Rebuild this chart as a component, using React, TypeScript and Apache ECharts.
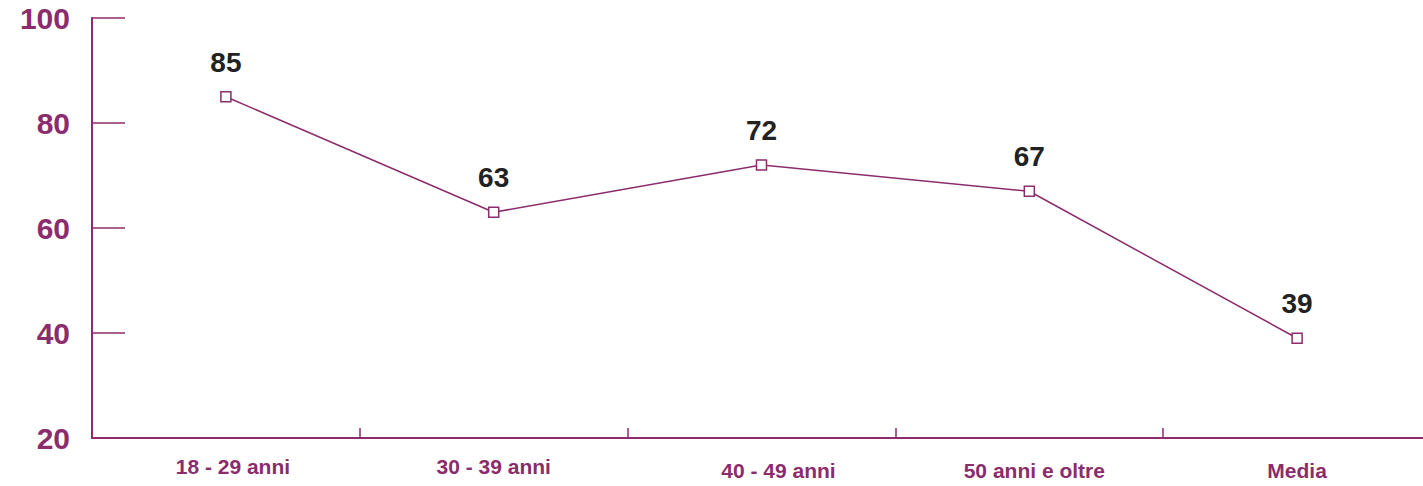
import React, { useEffect, useRef } from "react";
import * as echarts from "echarts";

const categories = ["18 - 29 anni", "30 - 39 anni", "40 - 49 anni", "50 anni e oltre", "Media"];
const values = [85, 63, 72, 67, 39];
const yTicks = { min: 20, max: 100, interval: 20 };

const PURPLE = "#8B2C6C";
const FONT = "'Liberation Sans', Arial, Helvetica, sans-serif";
// label placement tweaks per category: [top padding, horizontal shift]
const labelShift: [number, number][] = [
  [0, 7],
  [0, 0],
  [8, 17],
  [8, 5],
  [8, 0],
];

export default function App() {
  const ref = useRef<HTMLDivElement>(null);
  useEffect(() => {
    if (!ref.current) return;
    const chart = echarts.init(ref.current, undefined, { renderer: "svg" });
    const rich: Record<string, any> = {};
    labelShift.forEach(([t, dx], i) => {
      rich["l" + i] = {
        color: PURPLE,
        fontSize: 21,
        fontWeight: "bold",
        fontFamily: FONT,
        lineHeight: 24,
        padding: [t, 0, 0, dx * 2],
      };
    });
    chart.setOption({
      animation: false,
      grid: { left: 92, width: 1339, top: 18, bottom: 48, containLabel: false, outerBoundsMode: "none" },
      xAxis: {
        type: "category",
        data: categories,
        boundaryGap: true,
        axisLine: { lineStyle: { color: PURPLE, width: 2 } },
        axisTick: { show: true, inside: true, length: 10, lineStyle: { color: PURPLE, width: 1.5 }, alignWithLabel: false },
        axisLabel: {
          interval: 0,
          margin: 16,
          formatter: (v: string, i: number) => `{l${i}|${v}}`,
          rich,
        },
        splitLine: { show: false },
      },
      yAxis: {
        type: "value",
        min: yTicks.min,
        max: yTicks.max,
        interval: yTicks.interval,
        axisLine: { show: true, lineStyle: { color: PURPLE, width: 2 } },
        axisTick: { show: true, inside: true, length: 33, lineStyle: { color: PURPLE, width: 1.5 } },
        axisLabel: { color: PURPLE, fontSize: 30, fontWeight: "bold", fontFamily: FONT, margin: 22 },
        splitLine: { show: false },
      },
      series: [
        {
          type: "line",
          data: values,
          symbol: "rect",
          symbolSize: 10,
          itemStyle: { color: "#ffffff", borderColor: PURPLE, borderWidth: 1.5 },
          lineStyle: { color: PURPLE, width: 1.5 },
          label: {
            show: true,
            position: "top",
            distance: 15,
            color: "#222222",
            fontSize: 28,
            fontWeight: "bold",
            fontFamily: FONT,
          },
          z: 3,
        },
      ],
    });
    return () => chart.dispose();
  }, []);
  return <div ref={ref} style={{ position: "absolute", left: 0, top: 0, width: 1423, height: 486, overflow: "hidden" }} />;
}
